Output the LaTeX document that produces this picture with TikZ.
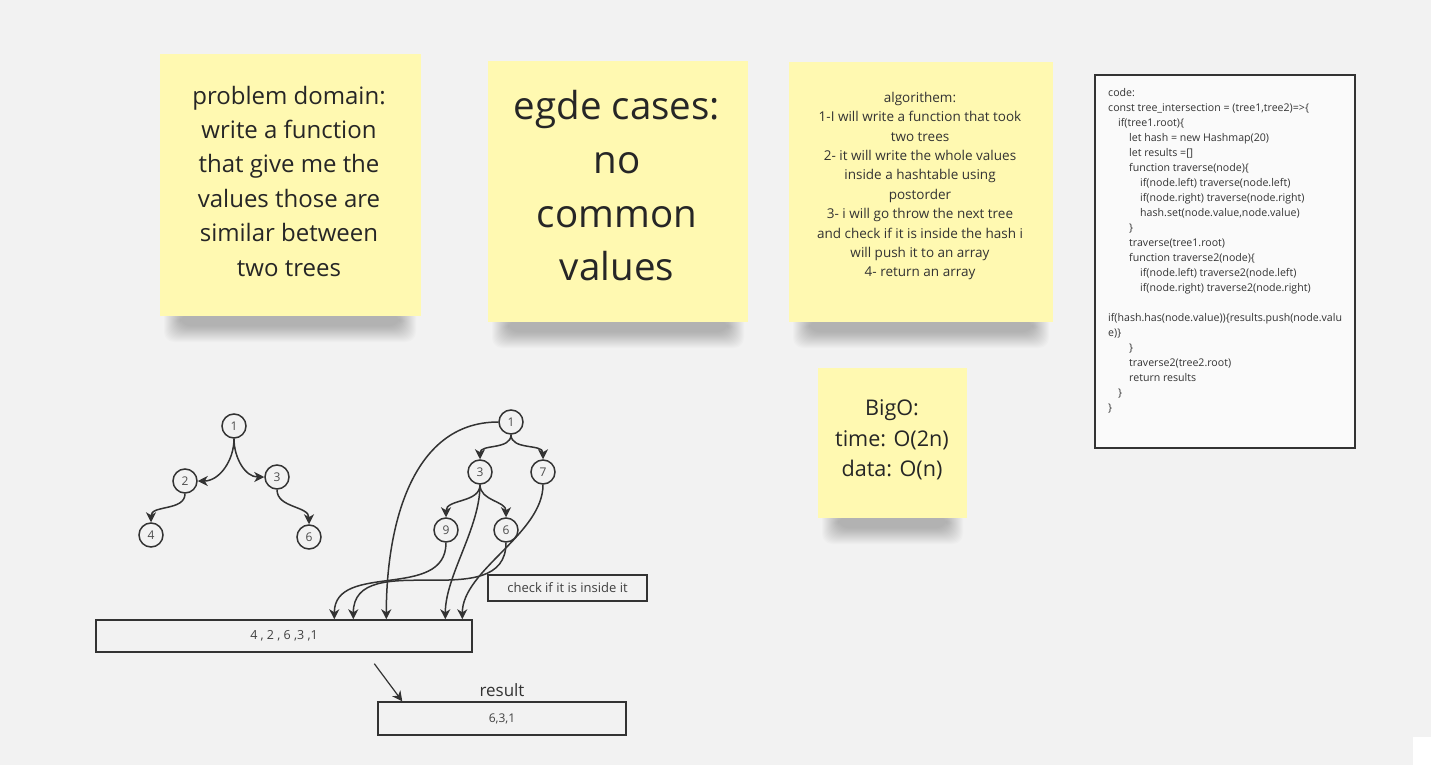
\documentclass[tikz,border=0pt]{standalone}
\usepackage{fontspec}
\setmainfont{Open Sans}
\usetikzlibrary{arrows.meta,positioning}

\definecolor{board}{HTML}{F2F2F2}
\definecolor{sticky}{HTML}{FFF9B1}
\definecolor{ink}{HTML}{333333}

\begin{document}
\begin{tikzpicture}[x=1pt,y=-1pt,
		note/.style={fill=sticky,draw=none,minimum width=#1,minimum height=#1,inner sep=0pt,text=black!85,align=center},
		vertex/.style={circle,draw=ink,line width=1.5pt,fill=board,minimum size=24pt,inner sep=0pt,font=\fontsize{12}{14}\selectfont,text=black!70},
		box/.style={draw=ink,line width=1.4pt,fill=board,inner sep=0pt,text=black!75},
		edge/.style={draw=ink,line width=1.5pt,-{Stealth[length=10pt,width=10pt,inset=3pt]}}]
	\fill[board](0,0) rectangle (1431,765);
	\useasboundingbox(0,0) rectangle (1431,765);
	\foreach \xa/\xb/\yb in {160/420/316,488/748/322,789/1053/322,818/967/518}{
		\foreach \s in {0,1,...,16}
			\fill[black,opacity=0.016,rounded corners=10pt](\xa+4+\s,\yb-10+\s/2) rectangle (\xb-4-\s,\yb+26-\s);
	}
	\fill[white](1413,737) rectangle (1431,765);
	\node[note=261pt,minimum height=262pt] (domain) at (290,185) {};
	\node[font=\fontsize{24}{34.4}\selectfont,align=center,text=black!85] (domaintxt) at (289,181)
		{problem domain:\\write a function\\that give me the\\values those are\\similar between\\two trees};
	\node[note=260pt,minimum height=261pt] (edges) at (618,191.5) {};
	\node[font=\fontsize{38.5}{53.7}\selectfont,align=center,text=black!85] (edgestxt) at (617,186)
		{egde cases:\\no\\common\\values};
	\node[note=264pt,minimum height=260pt] (algo) at (921,192) {};
	\node[font=\fontsize{13.5}{19.4}\selectfont,align=center,text=black!80] (algotxt) at (920,186)
		{algorithem:\\1-I will write a function that took\\two trees\\2- it will write the whole values\\inside a hashtable using\\postorder\\3- i will go throw the next tree\\and check if it is inside the hash i\\will push it to an array\\4- return an array};
	\node[note=149pt,minimum height=150pt] (bigo) at (892.5,443) {};
	\node[font=\fontsize{21.6}{30.5}\selectfont,align=center,text=black!85] (bigotxt) at (892,440)
		{BigO:\\time: O(2n)\\data: O(n)};
	\node[box,fill=white!60!board,minimum width=260pt,minimum height=373pt] (code) at (1225,261.5) {};
	\node[font=\fontsize{10.6}{15}\selectfont,align=left,anchor=north west,inner sep=0pt,text=black!80] (codetxt) at (1108,88)
		{code:\\
		const tree\_intersection = (tree1,tree2)=>\{\\
		\hspace*{10pt}if(tree1.root)\{\\
		\hspace*{21pt}let hash = new Hashmap(20)\\
		\hspace*{21pt}let results =[]\\
		\hspace*{21pt}function traverse(node)\{\\
		\hspace*{32pt}if(node.left) traverse(node.left)\\
		\hspace*{32pt}if(node.right) traverse(node.right)\\
		\hspace*{32pt}hash.set(node.value,node.value)\\
		\hspace*{21pt}\}\\
		\hspace*{21pt}traverse(tree1.root)\\
		\hspace*{21pt}function traverse2(node)\{\\
		\hspace*{32pt}if(node.left) traverse2(node.left)\\
		\hspace*{32pt}if(node.right) traverse2(node.right)\\[15pt]
		if(hash.has(node.value))\{results.push(node.valu\\
		e)\}\\
		\hspace*{21pt}\}\\
		\hspace*{21pt}traverse2(tree2.root)\\
		\hspace*{21pt}return results\\
		\hspace*{10pt}\}\\
		\}};
	\node[vertex] (ta) at (234,426) {1};
	\node[vertex] (tb) at (185,481) {2};
	\node[vertex] (tc) at (277,477) {3};
	\node[vertex] (td) at (151,535) {4};
	\node[vertex] (tf) at (309,537) {6};
	\draw[edge](ta.south) to[out=-90,in=0] (tb.east);
	\draw[edge](ta.south) to[out=-90,in=180] (tc.west);
	\draw[edge](tb.south) to[out=-90,in=90] (td.north);
	\draw[edge](tc.south) to[out=-90,in=90] (tf.north);
	\node[vertex] (ua) at (511,422) {1};
	\node[vertex] (uc) at (480,472) {3};
	\node[vertex] (ug) at (543,472) {7};
	\node[vertex] (ui) at (446,530) {9};
	\node[vertex] (uf) at (506,530) {6};
	\draw[edge](ua.south) to[out=-90,in=90] (uc.north);
	\draw[edge](ua.south) to[out=-90,in=90] (ug.north);
	\draw[edge](uc.south) to[out=-90,in=90] (ui.north);
	\draw[edge](uc.south) to[out=-90,in=90] (uf.north);
	\node[box,minimum width=376pt,minimum height=32pt,font=\fontsize{12.5}{14}\selectfont] (arr) at (284,636) {4 , 2 , 6 ,3 ,1};
	\node[box,minimum width=159pt,minimum height=26pt,font=\fontsize{13}{15}\selectfont] (check) at (567.5,588) {check if it is inside it};
	\draw[edge](ua.west) to[out=180,in=90] ([xshift=291pt]arr.north west);
	\draw[edge](uc.south) to[out=-90,in=90,looseness=0.8] ([xshift=350pt]arr.north west);
	\draw[edge](ug.south) to[out=-90,in=90,looseness=0.8] ([xshift=367pt]arr.north west);
	\draw[edge](ui.south) to[out=-90,in=90,looseness=1.1] ([xshift=239pt]arr.north west);
	\draw[edge](uf.south) to[out=-90,in=90,looseness=1.1] ([xshift=258pt]arr.north west);
	\node[box,minimum width=248pt,minimum height=33pt,font=\fontsize{12}{14}\selectfont] (res) at (502,718.5) {6,3,1};
	\node[above=1pt of res,font=\fontsize{17}{20}\selectfont,text=black!80] (reslbl) {result};
	\draw[edge,line width=1.2pt]([xshift=279pt,yshift=-11pt]arr.south west) -- ([xshift=25pt]res.north west);
\end{tikzpicture}
\end{document}
